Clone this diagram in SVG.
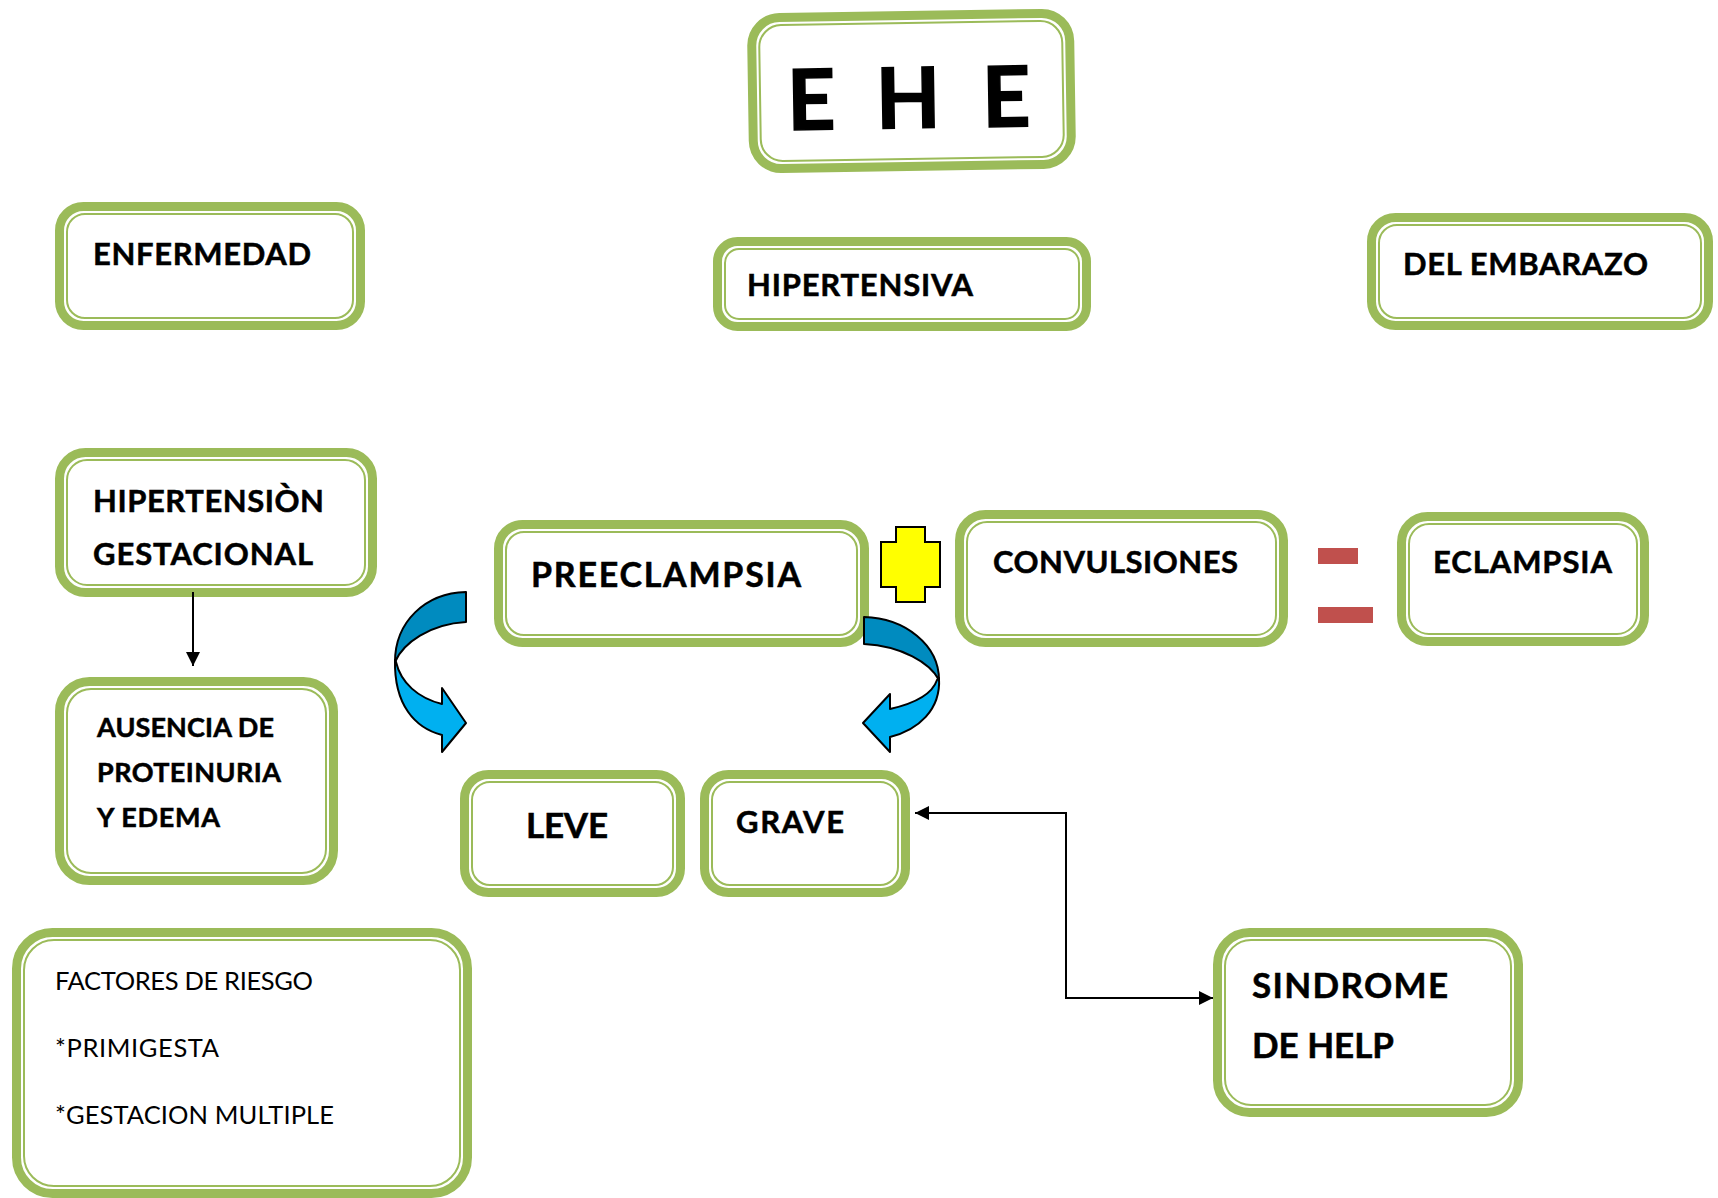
<svg xmlns="http://www.w3.org/2000/svg" width="1718" height="1198" viewBox="0 0 1718 1198">
<defs>
<style>
.o{fill:#fff;stroke:#9BBB59;stroke-width:9}
.i{fill:none;stroke:#9BBB59;stroke-width:2}
.b{font-family:Lato,"Liberation Sans",sans-serif;font-weight:bold;fill:#000;stroke:#000;stroke-width:0.5}
.r{font-family:Lato,"Liberation Sans",sans-serif;font-weight:normal;fill:#000}
.dk{fill:#008BBF;stroke:#000;stroke-width:2;stroke-linejoin:round}
.lt{fill:#00B0F0;stroke:#000;stroke-width:2;stroke-linejoin:round}
.c{fill:none;stroke:#000;stroke-width:2}
</style>
<marker id="ah" viewBox="0 0 10 10" refX="10" refY="5" markerUnits="userSpaceOnUse" markerWidth="15" markerHeight="14" orient="auto-start-reverse">
<path d="M0,0 L10,5 L0,10 z" fill="#000"/>
</marker>
</defs>
<rect width="1718" height="1198" fill="#fff"/>

<g id="ehe" transform="rotate(-0.9 911 91)">
<rect class="o" x="752.5" y="15.5" width="318" height="151" rx="28"/>
<rect class="i" x="760" y="23" width="303" height="136" rx="22"/>
<text class="b" x="811 860 908 957 1006" y="128" font-size="84" text-anchor="middle" style="stroke-width:1.5">E H E</text>
</g>

<g id="enfermedad">
<rect class="o" x="59.5" y="206.5" width="301" height="119" rx="24"/>
<rect class="i" x="67" y="214" width="286" height="104" rx="18"/>
<text class="b" x="93" y="265" font-size="31" textLength="218">ENFERMEDAD</text>
</g>

<g id="hipertensiva">
<rect class="o" x="717.5" y="241.5" width="369" height="85" rx="20"/>
<rect class="i" x="725" y="249" width="354" height="70" rx="14"/>
<text class="b" x="747" y="296" font-size="31" textLength="226">HIPERTENSIVA</text>
</g>

<g id="del-embarazo">
<rect class="o" x="1371.5" y="217.5" width="337" height="108" rx="24"/>
<rect class="i" x="1379" y="225" width="322" height="93" rx="18"/>
<text class="b" x="1403" y="275" font-size="31" textLength="245">DEL EMBARAZO</text>
</g>

<g id="hipertension-gestacional">
<rect class="o" x="59.5" y="452.5" width="313" height="140" rx="26"/>
<rect class="i" x="67" y="460" width="298" height="125" rx="20"/>
<text class="b" font-size="31"><tspan x="93" y="512" textLength="231">HIPERTENSIÒN</tspan><tspan x="93" y="565" textLength="220">GESTACIONAL</tspan></text>
</g>

<g id="ausencia">
<rect class="o" x="59.5" y="681.5" width="274" height="199" rx="30"/>
<rect class="i" x="67" y="689" width="259" height="184" rx="24"/>
<text class="b" font-size="27"><tspan x="97" y="737" textLength="177">AUSENCIA DE</tspan><tspan x="97" y="782" textLength="184">PROTEINURIA</tspan><tspan x="97" y="827" textLength="123">Y EDEMA</tspan></text>
</g>

<g id="factores">
<rect class="o" x="16.5" y="932.5" width="451" height="261" rx="36"/>
<rect class="i" x="24" y="940" width="436" height="246" rx="30"/>
<text class="r" font-size="25.5"><tspan x="55" y="990" textLength="258">FACTORES DE RIESGO</tspan><tspan x="55" y="1057" textLength="164">*PRIMIGESTA</tspan><tspan x="55" y="1124" textLength="279">*GESTACION MULTIPLE</tspan></text>
</g>

<g id="preeclampsia">
<rect class="o" x="498.5" y="524.5" width="366" height="118" rx="24"/>
<rect class="i" x="506" y="532" width="351" height="103" rx="18"/>
<text class="b" x="531" y="587" font-size="34" textLength="270">PREECLAMPSIA</text>
</g>

<g id="mas">
<path d="M896,527 H925 V542 H940 V587 H925 V602 H896 V587 H881 V542 H896 Z" fill="#FFFF00" stroke="#000" stroke-width="2"/>
</g>

<g id="convulsiones">
<rect class="o" x="959.5" y="514.5" width="324" height="128" rx="26"/>
<rect class="i" x="967" y="522" width="309" height="113" rx="20"/>
<text class="b" x="993" y="573" font-size="31" textLength="245">CONVULSIONES</text>
</g>

<g id="igual">
<rect x="1318" y="548" width="40" height="16" fill="#C0504D"/>
<rect x="1318" y="607" width="55" height="16" fill="#C0504D"/>
</g>

<g id="eclampsia">
<rect class="o" x="1401.5" y="516.5" width="243" height="125" rx="26"/>
<rect class="i" x="1409" y="524" width="228" height="110" rx="20"/>
<text class="b" x="1433" y="573" font-size="31" textLength="179">ECLAMPSIA</text>
</g>

<g id="leve">
<rect class="o" x="464.5" y="774.5" width="216" height="118" rx="24"/>
<rect class="i" x="472" y="782" width="201" height="103" rx="18"/>
<text class="b" x="526" y="838" font-size="35" textLength="82">LEVE</text>
</g>

<g id="grave">
<rect class="o" x="704.5" y="774.5" width="201" height="118" rx="24"/>
<rect class="i" x="712" y="782" width="186" height="103" rx="18"/>
<text class="b" x="736" y="833" font-size="31" textLength="108">GRAVE</text>
</g>

<g id="sindrome">
<rect class="o" x="1217.5" y="932.5" width="301" height="180" rx="32"/>
<rect class="i" x="1225" y="940" width="286" height="165" rx="26"/>
<text class="b" font-size="35"><tspan x="1252" y="998" textLength="196">SINDROME</tspan><tspan x="1252" y="1058" textLength="142">DE HELP</tspan></text>
</g>

<g id="connectors">
<line class="c" x1="193" y1="592" x2="193" y2="666" marker-end="url(#ah)"/>
<path class="c" d="M915,813 H1066 V998 H1213" marker-start="url(#ah)" marker-end="url(#ah)"/>
<path class="dk" d="M466,592 C425,593 395,622 395,662 C403,643 430,624 466,622 Z"/>
<path class="lt" d="M395,660 C394,705 415,728 442,735 L442,752 L466,723 L442,688 L442,704 C418,698 401,683 396,662 Z"/>
<path class="dk" d="M864,617 C905,618 939,645 939,680 C930,663 902,646 864,644 Z"/>
<path class="lt" d="M939,678 C941,710 918,730 890,737 L890,752 L863,723 L890,694 L890,709 C912,704 932,695 937,680 Z"/>
</g>
</svg>
